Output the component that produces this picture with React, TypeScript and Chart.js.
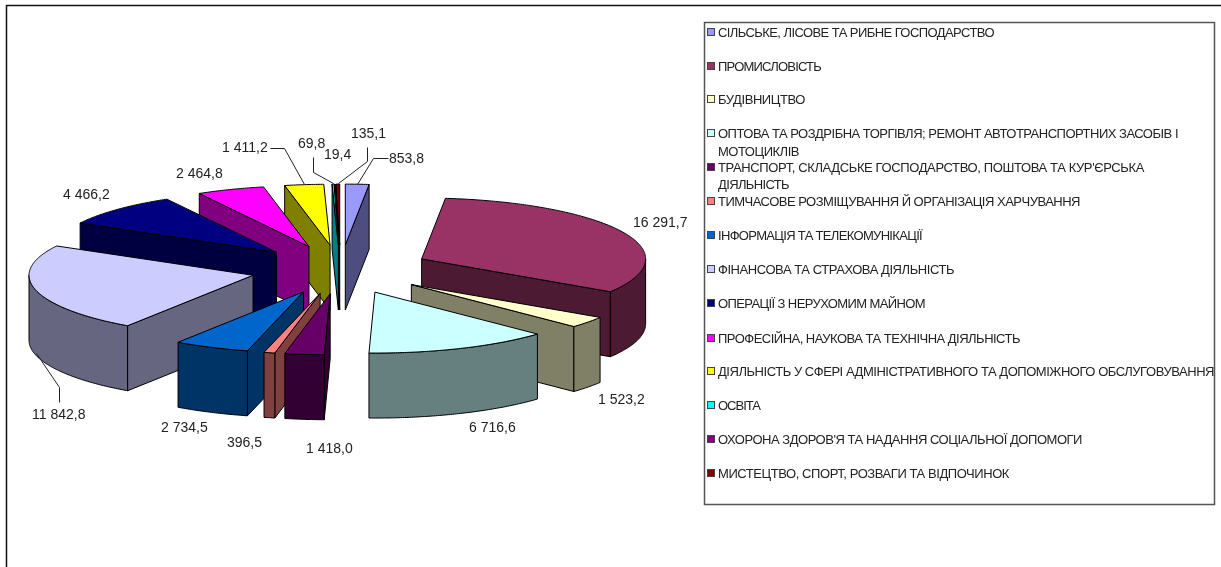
import React, { useEffect, useRef } from "react";
import { Chart, registerables } from "chart.js";

Chart.register(...registerables);

const categories: string[][] = [
  ["СІЛЬСЬКЕ, ЛІСОВЕ ТА РИБНЕ ГОСПОДАРСТВО"],
  ["ПРОМИСЛОВІСТЬ"],
  ["БУДІВНИЦТВО"],
  ["ОПТОВА ТА РОЗДРІБНА ТОРГІВЛЯ; РЕМОНТ АВТОТРАНСПОРТНИХ ЗАСОБІВ І", "МОТОЦИКЛІВ"],
  ["ТРАНСПОРТ, СКЛАДСЬКЕ ГОСПОДАРСТВО, ПОШТОВА ТА КУР'ЄРСЬКА", "ДІЯЛЬНІСТЬ"],
  ["ТИМЧАСОВЕ РОЗМІЩУВАННЯ Й ОРГАНІЗАЦІЯ ХАРЧУВАННЯ"],
  ["ІНФОРМАЦІЯ ТА ТЕЛЕКОМУНІКАЦІЇ"],
  ["ФІНАНСОВА ТА СТРАХОВА ДІЯЛЬНІСТЬ"],
  ["ОПЕРАЦІЇ З НЕРУХОМИМ МАЙНОМ"],
  ["ПРОФЕСІЙНА, НАУКОВА ТА ТЕХНІЧНА ДІЯЛЬНІСТЬ"],
  ["ДІЯЛЬНІСТЬ У СФЕРІ АДМІНІСТРАТИВНОГО ТА ДОПОМІЖНОГО ОБСЛУГОВУВАННЯ"],
  ["ОСВІТА"],
  ["ОХОРОНА ЗДОРОВ'Я ТА НАДАННЯ СОЦІАЛЬНОЇ ДОПОМОГИ"],
  ["МИСТЕЦТВО, СПОРТ, РОЗВАГИ ТА ВІДПОЧИНОК"],
];
const values: number[] = [853.8, 16291.7, 1523.2, 6716.6, 1418.0, 396.5, 2734.5, 11842.8, 4466.2, 2464.8, 1411.2, 69.8, 19.4, 135.1];
const valueLabels: string[] = ["853,8", "16 291,7", "1 523,2", "6 716,6", "1 418,0", "396,5", "2 734,5", "11 842,8", "4 466,2", "2 464,8", "1 411,2", "69,8", "19,4", "135,1"];
const topColors: string[] = ["#9999FF", "#993366", "#FFFFCC", "#CCFFFF", "#660066", "#FF8080", "#0066CC", "#CCCCFF", "#000080", "#FF00FF", "#FFFF00", "#00FFFF", "#800080", "#800000"];
const wallColors: string[] = ["#4D4D80", "#4D1A33", "#808066", "#668080", "#330033", "#804040", "#003366", "#666680", "#000040", "#800080", "#808000", "#008080", "#400040", "#400000"];

// layout of annotations
const labelAnchors: [number, number][] = [[389, 158], [633, 222], [598, 399], [469, 427], [306, 448], [227, 442], [161, 427], [32, 414], [63, 194], [176, 173], [222, 147], [298, 143], [324, 154], [351, 133]];
const leaders: [number, number][][] = [
  [[388, 158], [373, 158], [357, 184]],
  [[59, 402], [59, 387], [36, 353]],
  [[270, 148], [284, 148], [304, 184]],
  [[313, 157], [313, 172], [333, 183]],
  [[367, 147], [367, 161], [338, 183]],
];
const legendRowY: number[][] = [[32], [66], [99], [133, 151], [167, 184], [201], [235], [269], [303], [338], [371], [405], [439], [473]];
const legendWidths: number[][] = [[276], [103], [87], [460, 81], [426, 71], [362], [204], [236], [207], [302], [496], [42], [364], [291]];

const CX = 340.5, CY = 269.5, RADIUS = 224, SQUASH = 0.272, EXPLODE = 90, DEPTH = 65;
const FONT = '14px "Liberation Sans", Arial, sans-serif';
const LEGEND_FONT = '13px "Liberation Sans", Arial, sans-serif';
const LEGEND = { left: 704.5, top: 22.5, right: 1214.5, bottom: 504.5 };

const pie3d = {
  id: "pie3d",
  beforeDatasetDraw(chart: any) {
    const ctx: CanvasRenderingContext2D = chart.ctx;
    const arcs = chart.getDatasetMeta(0).data as any[];
    const order = arcs.map((_, i) => i).sort((a, b) => {
      const ma = (arcs[a].startAngle + arcs[a].endAngle) / 2;
      const mb = (arcs[b].startAngle + arcs[b].endAngle) / 2;
      return Math.sin(ma) - Math.sin(mb);
    });
    const STEP = 0.01;
    order.forEach((i) => {
      const el = arcs[i];
      const s = el.startAngle, e = el.endAngle, mid = (s + e) / 2, r = el.outerRadius;
      const ax = CX + Math.cos(mid) * EXPLODE;
      const ay = CY + Math.sin(mid) * EXPLODE * SQUASH;
      const px = (a: number) => ax + Math.cos(a) * r;
      const py = (a: number) => ay + Math.sin(a) * r * SQUASH;
      ctx.save();
      ctx.lineWidth = 1;
      ctx.strokeStyle = "#000";
      ctx.lineJoin = "round";
      ctx.fillStyle = wallColors[i];
      const wall = (a: number) => {
        ctx.beginPath();
        ctx.moveTo(ax, ay);
        ctx.lineTo(px(a), py(a));
        ctx.lineTo(px(a), py(a) + DEPTH);
        ctx.lineTo(ax, ay + DEPTH);
        ctx.closePath();
        ctx.fill();
        ctx.stroke();
      };
      if (Math.cos(s) < 0) wall(s);
      if (Math.cos(e) > 0) wall(e);
      // curved outer wall: the part of the rim that faces the viewer
      const from = Math.max(s, 0), to = Math.min(e, Math.PI);
      if (to > from) {
        ctx.beginPath();
        ctx.moveTo(px(from), py(from));
        for (let a = from; a < to; a += STEP) ctx.lineTo(px(a), py(a));
        ctx.lineTo(px(to), py(to));
        ctx.lineTo(px(to), py(to) + DEPTH);
        for (let a = to; a > from; a -= STEP) ctx.lineTo(px(a), py(a) + DEPTH);
        ctx.lineTo(px(from), py(from) + DEPTH);
        ctx.closePath();
        ctx.fill();
        ctx.stroke();
      }
      // top face: the library's arc element under a squashing transform
      ctx.save();
      ctx.translate(ax, ay);
      ctx.scale(1, SQUASH);
      ctx.translate(-el.x, -el.y);
      el.draw(ctx);
      ctx.restore();
      ctx.beginPath();
      ctx.moveTo(ax, ay);
      for (let a = s; a < e; a += STEP) ctx.lineTo(px(a), py(a));
      ctx.lineTo(px(e), py(e));
      ctx.closePath();
      ctx.stroke();
      ctx.restore();
    });
    return false;
  },
  afterDraw(chart: any) {
    const ctx: CanvasRenderingContext2D = chart.ctx;
    ctx.save();
    // outer frame
    ctx.strokeStyle = "#111";
    ctx.lineWidth = 1.5;
    ctx.beginPath();
    ctx.moveTo(6.5, 570);
    ctx.lineTo(6.5, 5.5);
    ctx.lineTo(1225, 5.5);
    ctx.stroke();
    // leaders
    ctx.lineWidth = 1;
    ctx.strokeStyle = "#222";
    leaders.forEach((pts) => {
      ctx.beginPath();
      pts.forEach(([x, y], i) => (i ? ctx.lineTo(x + 0.5, y + 0.5) : ctx.moveTo(x + 0.5, y + 0.5)));
      ctx.stroke();
    });
    // value labels
    ctx.font = FONT;
    ctx.fillStyle = "#222";
    ctx.textBaseline = "middle";
    ctx.textAlign = "left";
    valueLabels.forEach((t, i) => ctx.fillText(t, labelAnchors[i][0], labelAnchors[i][1] + 1));
    // legend
    ctx.strokeStyle = "#555";
    ctx.lineWidth = 1.5;
    ctx.strokeRect(LEGEND.left, LEGEND.top, LEGEND.right - LEGEND.left, LEGEND.bottom - LEGEND.top);
    ctx.lineWidth = 1;
    ctx.font = LEGEND_FONT;
    categories.forEach((lines, i) => {
      ctx.fillStyle = topColors[i];
      ctx.fillRect(707.5, legendRowY[i][0] - 3.5, 7, 7);
      ctx.strokeStyle = "#444";
      ctx.strokeRect(707.5, legendRowY[i][0] - 3.5, 7, 7);
      ctx.fillStyle = "#222";
      lines.forEach((line, j) => {
        (ctx as any).letterSpacing = "0px";
        const natural = ctx.measureText(line).width;
        (ctx as any).letterSpacing = `${(legendWidths[i][j] - natural) / line.length}px`;
        ctx.fillText(line, 718, legendRowY[i][j] + 1);
      });
    });
    (ctx as any).letterSpacing = "0px";
    ctx.restore();
  },
};

export default function App() {
  const ref = useRef<HTMLCanvasElement>(null);
  useEffect(() => {
    const chart = new Chart(ref.current!, {
      type: "pie",
      data: {
        labels: categories.map((c) => c.join(" ")),
        datasets: [{ data: values, backgroundColor: topColors, borderWidth: 0 }],
      },
      options: {
        animation: false,
        responsive: false,
        radius: RADIUS,
        rotation: 0,
        plugins: { legend: { display: false }, tooltip: { enabled: false } },
      } as any,
      plugins: [pie3d],
    });
    return () => chart.destroy();
  }, []);
  return (
    <canvas
      ref={ref}
      width={1221}
      height={567}
      style={{ position: "fixed", left: 0, top: 0, width: 1221, height: 567, background: "#fff" }}
    />
  );
}
